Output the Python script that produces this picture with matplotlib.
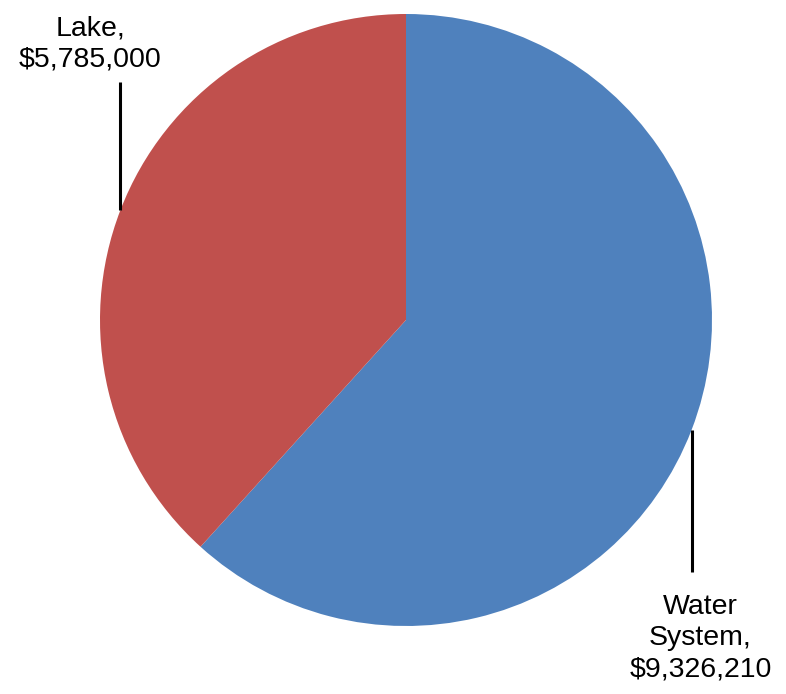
"""Pie chart: Water System vs Lake funding."""
import matplotlib

matplotlib.use("Agg")
import matplotlib.pyplot as plt
import numpy as np

labels = ["Water\nSystem,", "Lake,"]
values = [9326210, 5785000]
colors = ["#4F81BD", "#C0504D"]

W, H = 786, 694
CX, CY, R = 406, H - 320, 306

fig = plt.figure(figsize=(W / 100, H / 100), dpi=100)
ax = fig.add_axes([0, 0, 1, 1])

wedges, _ = ax.pie(values, colors=colors, startangle=90, counterclock=False,
                   center=(CX, CY), radius=R, frame=True,
                   wedgeprops=dict(linewidth=0))
ax.set_xlim(0, W)
ax.set_ylim(0, H)
ax.set_aspect("equal")
ax.axis("off")

font = dict(family=["Liberation Sans", "DejaVu Sans"], fontsize=20.5, color="black")

# leader line from the wedge mid-angle point, then the label
for w, lab, val, (dy, ty, tx) in zip(wedges, labels, values,
                                     [(-142, -208, 9), (128, 166, -30)]):
    ang = np.deg2rad((w.theta1 + w.theta2) / 2)
    x0 = CX + R * np.cos(ang)
    y0 = CY + R * np.sin(ang)
    ax.plot([x0, x0], [y0, y0 + dy], color="black", lw=2.2, solid_capstyle="butt")
    ax.text(x0 + tx, y0 + ty, f"{lab}\n${val:,}",
            ha="center", va="center", linespacing=1.25, **font)

fig.savefig("out.png", dpi=100)
